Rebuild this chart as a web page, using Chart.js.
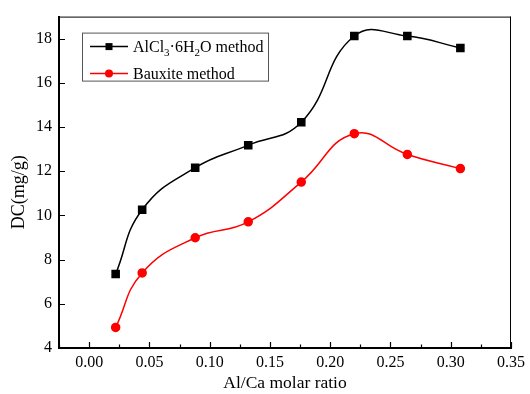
<!DOCTYPE html>
<html lang="en">
<head>
<meta charset="UTF-8">
<script src="https://cdn.jsdelivr.net/npm/chart.js@4.4.0/dist/chart.umd.min.js"></script>
<title>DC vs Al/Ca molar ratio</title>
<style>
  html, body { margin: 0; padding: 0; background: #fff; }
  #wrap { width: 530px; height: 394px; }
</style>
</head>
<body>
<div id="wrap"><canvas id="myChart" width="530" height="394"></canvas></div>
<script>
var ratio = [0.022, 0.044, 0.088, 0.132, 0.176, 0.220, 0.264, 0.308];
var alcl3 = [7.35, 10.26, 12.16, 13.18, 14.22, 18.12, 18.12, 17.58];
var bauxite = [4.93, 7.40, 8.99, 9.71, 11.51, 13.70, 12.76, 12.12];
var xTicks = [0.00, 0.05, 0.10, 0.15, 0.20, 0.25, 0.30, 0.35];
var xMinor = [-0.025, 0.025, 0.075, 0.125, 0.175, 0.225, 0.275, 0.325];
var yTicks = [4, 6, 8, 10, 12, 14, 16, 18];

var serif = '"Liberation Serif", "Times New Roman", serif';

// axis frame, inward ticks, y title and the legend with subscripts
var framePlugin = {
  id: 'frame',
  afterDraw: function(chart) {
    var ctx = chart.ctx, a = chart.chartArea;
    var xs = chart.scales.x, ys = chart.scales.y;
    ctx.save();
    ctx.strokeStyle = '#000';
    ctx.lineWidth = 1;
    ctx.beginPath();
    ctx.moveTo(a.left, a.top + 0.5);
    ctx.lineTo(a.right, a.top + 0.5);
    ctx.moveTo(a.right - 0.5, a.top);
    ctx.lineTo(a.right - 0.5, a.bottom);
    ctx.stroke();

    ctx.lineWidth = 1.2;
    ctx.beginPath();
    xTicks.forEach(function(v){
      var px = Math.round(xs.getPixelForValue(v)) + 0.5;
      ctx.moveTo(px, a.bottom); ctx.lineTo(px, a.bottom - 6);
    });
    xMinor.forEach(function(v){
      var px = Math.round(xs.getPixelForValue(v)) + 0.5;
      ctx.moveTo(px, a.bottom); ctx.lineTo(px, a.bottom - 3.5);
    });
    yTicks.forEach(function(v){
      var py = Math.round(ys.getPixelForValue(v)) + 0.5;
      ctx.moveTo(a.left, py); ctx.lineTo(a.left + 6, py);
    });
    ctx.stroke();

    // y axis title
    ctx.fillStyle = '#000';
    ctx.font = '18px ' + serif;
    ctx.textAlign = 'center';
    ctx.textBaseline = 'middle';
    ctx.translate(19, (a.top + a.bottom) / 2 + 10);
    ctx.rotate(-Math.PI / 2);
    ctx.fillText('DC(mg/g)', 0, 0);
    ctx.restore();

    // legend
    ctx.save();
    var bx = a.left + 23, by = a.top + 16;
    ctx.strokeStyle = '#555';
    ctx.lineWidth = 1;
    ctx.strokeRect(bx + 0.5, by + 0.5, 186, 48);
    var rows = [
      {ds: chart.data.datasets[0], y: by + 14},
      {ds: chart.data.datasets[1], y: by + 41}
    ];
    rows.forEach(function(r, i){
      ctx.strokeStyle = r.ds.borderColor;
      ctx.lineWidth = r.ds.borderWidth;
      ctx.beginPath();
      ctx.moveTo(bx + 8, r.y); ctx.lineTo(bx + 46, r.y);
      ctx.stroke();
      ctx.fillStyle = r.ds.pointBackgroundColor;
      if (i === 0) {
        ctx.fillRect(bx + 23.5, r.y - 3.5, 7, 7);
      } else {
        ctx.beginPath();
        ctx.arc(bx + 27, r.y, 4, 0, Math.PI * 2);
        ctx.fill();
      }
    });
    ctx.fillStyle = '#000';
    ctx.textAlign = 'left';
    ctx.textBaseline = 'alphabetic';
    var tx = bx + 51, ty = rows[0].y + 5.5;
    var parts = [['AlCl', 0], ['3', 1], ['\u00b76H', 0], ['2', 1], ['O method', 0]];
    parts.forEach(function(p){
      ctx.font = (p[1] ? '11px ' : '16px ') + serif;
      ctx.fillText(p[0], tx, ty + (p[1] ? 4 : 0));
      tx += ctx.measureText(p[0]).width;
    });
    ctx.font = '16px ' + serif;
    ctx.fillText('Bauxite method', bx + 51, rows[1].y + 5.5);
    ctx.restore();
  }
};

var ctx = document.getElementById('myChart').getContext('2d');
var myChart = new Chart(ctx, {
  type: 'line',
  data: {
    datasets: [{
      label: 'AlCl3·6H2O method',
      data: ratio.map(function(x, i){ return {x: x, y: alcl3[i]}; }),
      borderColor: '#000',
      backgroundColor: '#000',
      pointBackgroundColor: '#000',
      pointBorderColor: '#000',
      pointStyle: 'rect',
      pointRadius: 5,
      borderWidth: 1.5,
      tension: 0.45
    }, {
      label: 'Bauxite method',
      data: ratio.map(function(x, i){ return {x: x, y: bauxite[i]}; }),
      borderColor: '#ff0000',
      backgroundColor: '#ff0000',
      pointBackgroundColor: '#ff0000',
      pointBorderColor: '#ff0000',
      pointStyle: 'circle',
      pointRadius: 4,
      borderWidth: 1.5,
      tension: 0.45
    }]
  },
  options: {
    responsive: false,
    animation: false,
    layout: { padding: { top: 12, right: 14, left: 0, bottom: 0 } },
    plugins: { legend: { display: false }, tooltip: { enabled: false } },
    scales: {
      x: {
        type: 'linear',
        min: -0.025,
        max: 0.35,
        afterBuildTicks: function(s){ s.ticks = xTicks.map(function(v){ return {value: v}; }); },
        afterFit: function(s){ s.height = 46; },
        grid: { display: false, drawTicks: false },
        border: { display: true, color: '#000', width: 2 },
        ticks: {
          padding: 5,
          color: '#000',
          font: { family: serif, size: 16 },
          callback: function(v){ return Number(v).toFixed(2); }
        },
        title: {
          display: true,
          text: 'Al/Ca molar ratio',
          color: '#000',
          font: { family: serif, size: 17.5 },
          padding: { top: 0, bottom: 0 }
        }
      },
      y: {
        min: 4,
        max: 19,
        afterBuildTicks: function(s){ s.ticks = yTicks.map(function(v){ return {value: v}; }); },
        afterFit: function(s){ s.width = 59; },
        grid: { display: false, drawTicks: false },
        border: { display: true, color: '#000', width: 2 },
        ticks: {
          padding: 7,
          color: '#000',
          font: { family: serif, size: 16 }
        }
      }
    }
  },
  plugins: [framePlugin]
});
</script>
</body>
</html>
